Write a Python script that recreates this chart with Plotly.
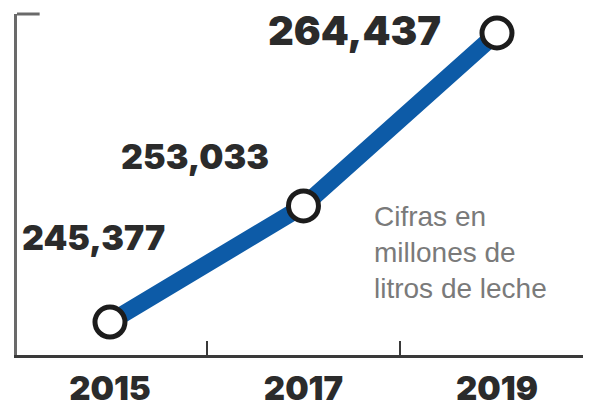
import plotly.graph_objects as go

years = [2015, 2017, 2019]
values = [245377, 253033, 264437]
value_labels = ["245,377", "253,033", "264,437"]
year_labels = ["2015", "2017", "2019"]
note_lines = ["Cifras en", "millones de", "litros de leche"]

BLUE = "#0d5ba7"
DARK = "#2b2b2b"
FONT = "Inter"

fig = go.Figure()
fig.add_trace(go.Scatter(
    x=years, y=values, mode="lines+markers",
    line=dict(color=BLUE, width=17),
    marker=dict(size=30, color="white", line=dict(color="#1c1c1c", width=5)),
    hoverinfo="skip", showlegend=False, cliponaxis=False,
))

# value labels, placed relative to their points: (xshift, yshift, anchor, size)
offsets = [(-16, 85, "center", 34), (-32, 49, "right", 34), (-54, 3, "right", 40)]
for (x, y, t), (dx, dy, anc, sz) in zip(zip(years, values, value_labels), offsets):
    fig.add_annotation(x=x, y=y, text=t, showarrow=False, xanchor=anc, yanchor="middle",
                       xshift=dx, yshift=dy,
                       font=dict(family=FONT, size=sz, color=DARK, weight=900))

for i, line in enumerate(note_lines):
    fig.add_annotation(xref="paper", yref="paper", x=0.627, y=0.405, text=line,
                       showarrow=False, xanchor="left", yanchor="middle", align="left",
                       yshift=-36 * i,
                       font=dict(family="Liberation Sans", size=28, color="#7a7a7a"))

# small cap at the top of the left axis
fig.add_shape(type="line", xref="paper", yref="paper", x0=0, x1=0.04, y0=1, y1=1,
              line=dict(color="#6a6a6a", width=3))

ymin, ymax = 243201, 265690
fig.update_layout(
    width=600, height=407,
    margin=dict(l=17, r=17, t=14, b=52, autoexpand=False),
    paper_bgcolor="white", plot_bgcolor="white",
    xaxis=dict(range=[2014.039, 2019.889], tickvals=years, ticktext=year_labels,
               automargin=False,
               showgrid=False, zeroline=False, showline=True, linecolor="#3a3a3a", linewidth=3,
               ticks="", ticklabelstandoff=2,
               tickfont=dict(family=FONT, size=33, color=DARK, weight=900),
               minor=dict(tickvals=[2016, 2018], ticks="inside", ticklen=14, tickwidth=2,
                          tickcolor="#3a3a3a")),
    yaxis=dict(range=[ymin, ymax], automargin=False, showgrid=False, zeroline=False,
               showline=True, linecolor="#6a6a6a", linewidth=3, showticklabels=False,
               ticks=""),
)

fig.write_html("out.html", config={"displayModeBar": False},
               post_script="document.body.style.margin='0px';")
